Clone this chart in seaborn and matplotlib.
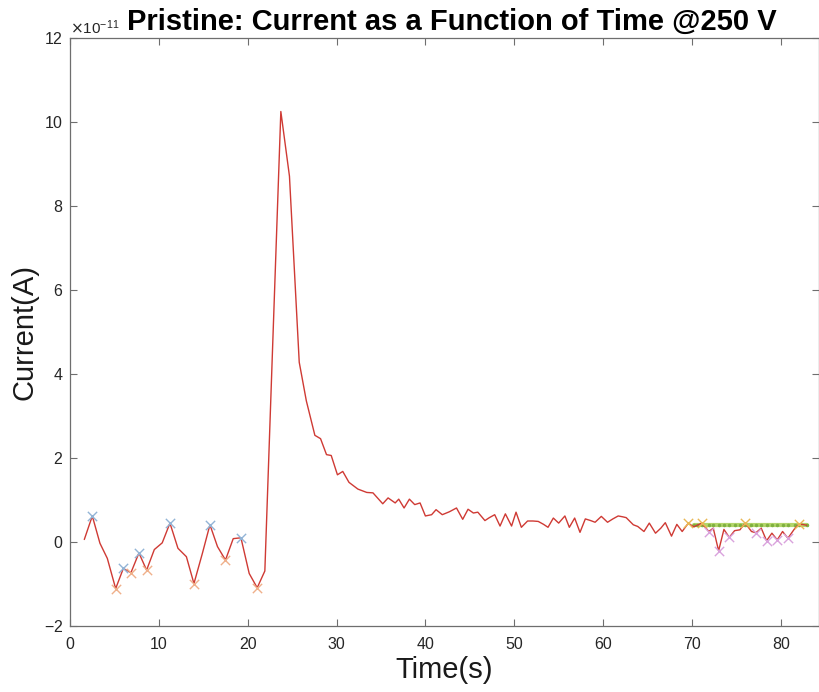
import numpy as np
import pandas as pd
import matplotlib
matplotlib.use("Agg")
import matplotlib.pyplot as plt
import seaborn as sns
from matplotlib.ticker import ScalarFormatter

# ---- data (current in units of 1e-11 A) ----
time_s = [1.61, 2.51, 3.37, 4.20, 5.14, 6.00, 6.86, 7.76, 8.62, 9.49, 10.38, 11.25,
          12.15, 13.10, 13.95, 14.90, 15.75, 16.60, 17.50, 18.37, 19.24, 20.17, 21.07,
          21.93, 22.83, 23.73, 24.70, 25.80, 26.60, 27.56, 28.20, 28.87, 29.40, 30.10,
          30.70, 31.40, 32.40, 33.40, 34.10, 35.20, 35.80, 36.60, 37.00, 37.60, 38.20,
          38.80, 39.40, 40.00, 40.70, 41.20, 41.90, 42.70, 43.50, 44.20, 44.80, 45.40,
          45.90, 46.70, 47.20, 47.80, 48.40, 49.00, 49.70, 50.20, 50.80, 51.50, 52.10,
          52.70, 53.30, 53.80, 54.40, 55.00, 55.70, 56.20, 56.80, 57.40, 58.00, 58.60,
          59.10, 59.80, 60.50, 61.10, 61.70, 62.20, 62.60, 63.40, 63.90, 64.60, 65.20,
          65.90, 66.50, 67.00, 67.70, 68.30, 68.90, 69.60, 70.20, 70.60, 71.10, 71.90,
          72.40, 73.00, 73.60, 74.20, 74.80, 75.40, 76.00, 76.70, 77.20, 77.80, 78.40,
          79.00, 79.60, 80.20, 80.80, 81.60, 82.10, 82.90]
current_e11 = [0.06, 0.62, -0.03, -0.39, -1.11, -0.63, -0.73, -0.26, -0.67, -0.18, -0.02, 0.45,
               -0.15, -0.35, -0.99, -0.27, 0.41, -0.11, -0.43, 0.08, 0.10, -0.75, -1.09,
               -0.69, 4.80, 10.25, 8.71, 4.28, 3.36, 2.54, 2.46, 2.08, 2.06, 1.60,
               1.68, 1.42, 1.26, 1.18, 1.17, 0.91, 1.05, 0.93, 1.02, 0.81, 1.02,
               0.89, 0.93, 0.62, 0.65, 0.77, 0.65, 0.72, 0.81, 0.54, 0.78, 0.69,
               0.71, 0.51, 0.58, 0.65, 0.38, 0.67, 0.38, 0.71, 0.35, 0.50, 0.50,
               0.49, 0.42, 0.35, 0.57, 0.45, 0.62, 0.35, 0.57, 0.23, 0.55, 0.51,
               0.47, 0.61, 0.47, 0.55, 0.62, 0.60, 0.58, 0.41, 0.37, 0.25, 0.45,
               0.21, 0.33, 0.46, 0.14, 0.42, 0.25, 0.45, 0.36, 0.40, 0.45, 0.25,
               0.33, -0.21, 0.30, 0.11, 0.27, 0.29, 0.45, 0.25, 0.22, 0.33, 0.03,
               0.21, 0.05, 0.25, 0.09, 0.33, 0.43, 0.40]

# marked extrema (times)
early_max_t = [2.51, 6.00, 7.76, 11.25, 15.75, 19.24]
early_min_t = [5.14, 6.86, 8.62, 13.95, 17.50, 21.07]
late_max_t = [69.60, 71.10, 76.00, 82.10]
late_min_t = [71.90, 73.00, 74.20, 77.20, 78.40, 79.60, 80.80]

# steady-state level line
level_start, level_end = 70.2, 82.9
level_value_e11 = 0.41

scale = 1e-11
df = pd.DataFrame({"t": time_s, "I": np.array(current_e11) * scale})

def pick(times):
    return df[np.isin(np.round(df["t"], 2), np.round(times, 2))]

lvl = df[(df["t"] >= level_start) & (df["t"] <= level_end)].copy()
lvl["I"] = level_value_e11 * scale

sns.set_theme(style="white")
plt.rcParams["font.family"] = ["Liberation Sans", "DejaVu Sans"]
plt.rcParams["axes.unicode_minus"] = False

fig = plt.figure(figsize=(8.19, 6.92), dpi=100)
ax = fig.add_axes([70 / 819, 1 - 626 / 692, 1 - 70 / 819, (626 - 38) / 692])

sns.lineplot(data=df, x="t", y="I", ax=ax, color="#cf3a34", linewidth=1.0,
             sort=False, estimator=None, zorder=3)
sns.lineplot(data=lvl, x="t", y="I", ax=ax, color="#b3d56a", linewidth=3.0,
             sort=False, estimator=None, zorder=2)
ax.plot(lvl["t"], lvl["I"], linestyle="none", marker=".", markersize=3,
        color="#7fb040", zorder=2)

sns.scatterplot(data=pick(early_max_t), x="t", y="I", ax=ax, marker="x",
                color="#92b4d6", s=45, linewidth=1.0, zorder=4)
sns.scatterplot(data=pick(early_min_t), x="t", y="I", ax=ax, marker="x",
                color="#efb08a", s=45, linewidth=1.0, zorder=4)
sns.scatterplot(data=pick(late_max_t), x="t", y="I", ax=ax, marker="x",
                color="#e9b755", s=45, linewidth=1.0, zorder=4)
sns.scatterplot(data=pick(late_min_t), x="t", y="I", ax=ax, marker="x",
                color="#d9a2dc", s=45, linewidth=1.0, zorder=4)

ax.set_xlim(0, 84.3)
ax.set_ylim(-2 * scale, 12 * scale)
ax.set_xticks(np.arange(0, 81, 10))
ax.set_yticks(np.arange(-2, 13, 2) * scale)

fmt = ScalarFormatter(useMathText=True)
fmt.set_powerlimits((-11, -11))
ax.yaxis.set_major_formatter(fmt)
ax.yaxis.get_offset_text().set_fontsize(11)
ax.yaxis.get_offset_text().set_color("#262626")

for s in ax.spines.values():
    s.set_color("#6e6e6e")
    s.set_linewidth(0.9)
ax.tick_params(direction="in", length=5, width=0.8, color="#6e6e6e",
               top=True, right=True, labelsize=11.5, labelcolor="#262626",
               bottom=True, left=True)
ax.tick_params(axis="x", pad=8)
ax.tick_params(axis="y", pad=5)

ax.set_xlabel("Time(s)", fontsize=21, color="#1a1a1a", labelpad=3)
ax.set_ylabel("Current(A)", fontsize=21, color="#1a1a1a")
ax.yaxis.set_label_coords(-31 / 749, 0.5)
ax.set_title("Pristine: Current as a Function of Time @250 V", fontsize=21,
             fontweight="bold", color="black", pad=6, x=0.51)

fig.savefig("out.png", dpi=100)
